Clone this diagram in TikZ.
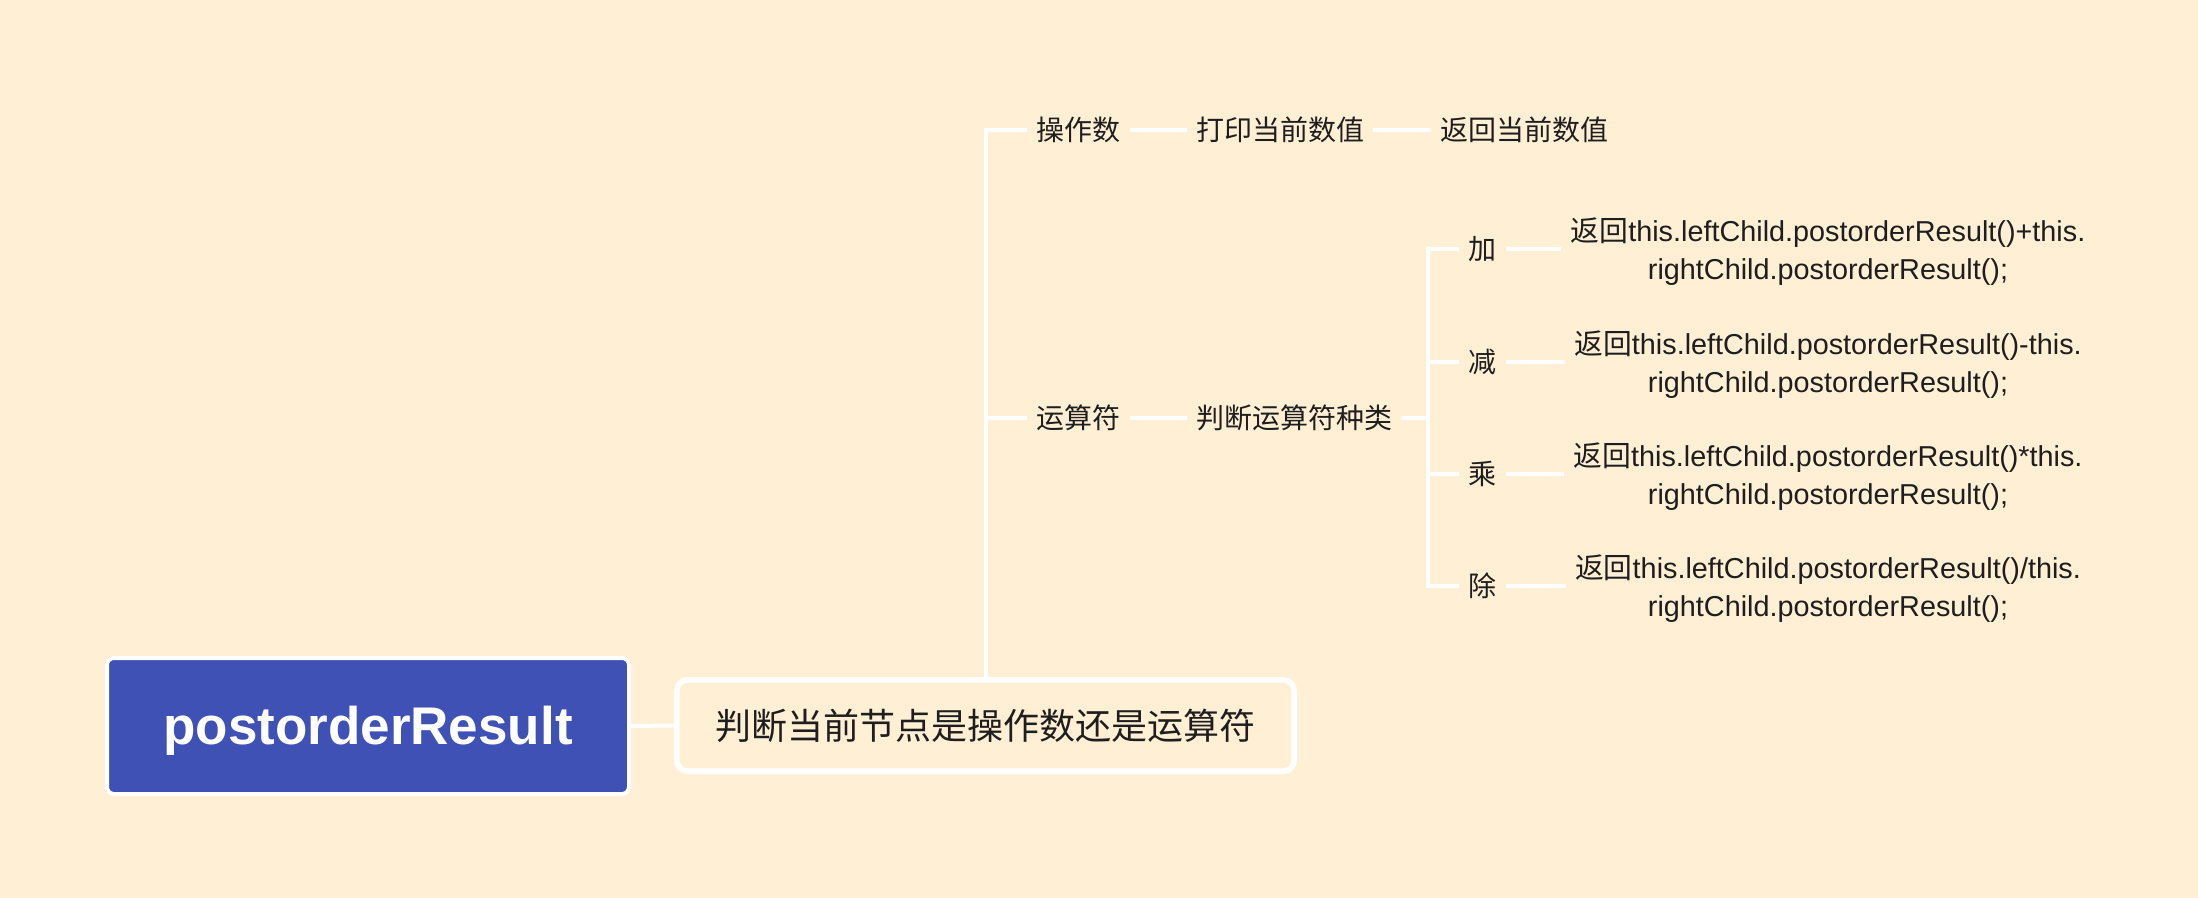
\documentclass[tikz,border=0pt]{standalone}
\usepackage{fontspec}
\setmainfont{Liberation Sans}
\newfontfamily\cjk{Noto Sans CJK SC}
\definecolor{bg}{HTML}{FFEFD5}
\definecolor{ink}{HTML}{1E1E1E}
\definecolor{rootblue}{HTML}{3F51B5}
\begin{document}
\begin{tikzpicture}[x=0.5pt,y=-0.5pt,
  conn/.style={draw=white,line width=2pt},
  lbl/.style={text=ink,font=\cjk\fontsize{14}{19}\selectfont,inner xsep=4.5pt,inner ysep=2pt},
  res/.style={text=ink,font=\fontsize{14.4}{19}\selectfont,align=center,inner xsep=4.5pt}]
\fill[bg] (0,0) rectangle (2198,898);
\useasboundingbox (0,0) rectangle (2198,898);

\node[draw=white,line width=2pt,fill=rootblue,rounded corners=3.5pt,minimum width=261pt,minimum height=68pt,text=white,font=\bfseries\fontsize{26.5}{30}\selectfont] (root) at (368,726) {\raisebox{-2.5pt}[\height][\depth]{postorderResult}};
\node[draw=white,line width=2.8pt,rounded corners=5.5pt,minimum width=308.7pt,minimum height=45.7pt,text=ink,font=\cjk\fontsize{18}{22}\selectfont] (q) at (985.5,725.5) {判断当前节点是操作数还是运算符};

\node[lbl] (op) at (1078.7,130) {操作数};
\node[lbl] (print) at (1280,130) {打印当前数值};
\node[lbl] (ret) at (1524,130) {返回当前数值};

\node[lbl] (oper) at (1078.7,417.7) {运算符};
\node[lbl] (judge) at (1294,417.7) {判断运算符种类};
\coordinate (jt) at (1428,417.7);

\node[lbl] (add) at (1482.5,249.5) {加};
\node[lbl] (sub) at (1482.5,361.7) {减};
\node[lbl] (mul) at (1482.5,473.8) {乘};
\node[lbl] (div) at (1482.5,586) {除};

\node[res] (addr) at (1828,252) {{\cjk 返回}this.leftChild.postorderResult()+this.\\rightChild.postorderResult();};
\node[res] (subr) at (1828,364.2) {{\cjk 返回}this.leftChild.postorderResult()-this.\\rightChild.postorderResult();};
\node[res] (mulr) at (1828,476.3) {{\cjk 返回}this.leftChild.postorderResult()*this.\\rightChild.postorderResult();};
\node[res] (divr) at (1828,588.5) {{\cjk 返回}this.leftChild.postorderResult()/this.\\rightChild.postorderResult();};

\draw[conn] (root.east) -- (q.west);
\draw[conn] (q.north) |- (op.west);
\draw[conn] (q.north) |- (oper.west);
\draw[conn] (op.east) -- (print.west);
\draw[conn] (print.east) -- (ret.west);
\draw[conn] (oper.east) -- (judge.west);
\draw[conn] (judge.east) -- (jt);
\draw[conn] (jt) |- (add.west);
\draw[conn] (jt) |- (sub.west);
\draw[conn] (jt) |- (mul.west);
\draw[conn] (jt) |- (div.west);
\draw[conn] (add.east) -- ([yshift=1.25pt]addr.west);
\draw[conn] (sub.east) -- ([yshift=1.25pt]subr.west);
\draw[conn] (mul.east) -- ([yshift=1.25pt]mulr.west);
\draw[conn] (div.east) -- ([yshift=1.25pt]divr.west);
\end{tikzpicture}
\end{document}
